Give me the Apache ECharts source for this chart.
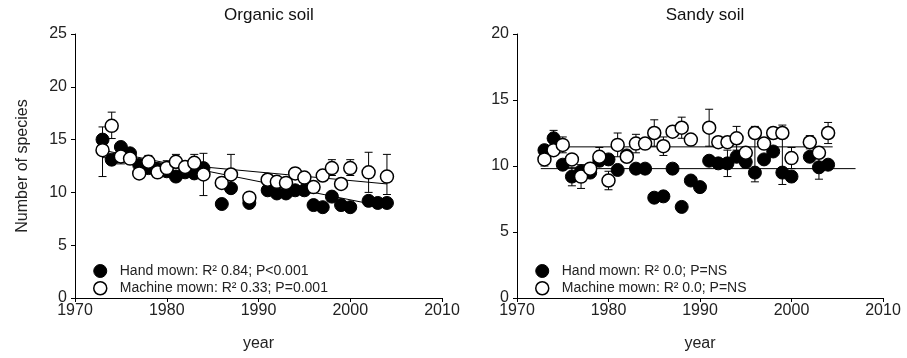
<!DOCTYPE html>
<html>
<head>
<meta charset="utf-8">
<script src="https://cdn.jsdelivr.net/npm/echarts@6/dist/echarts.min.js"></script>
<style>
  html, body { margin: 0; padding: 0; background: #fff; }
  #chart { width: 907px; height: 358px; }
</style>
</head>
<body>
<div id="chart"></div>
<script>
// years 1973..2004, null = no survey
const years = [1973,1974,1975,1976,1977,1978,1979,1980,1981,1982,1983,1984,1985,1986,1987,1988,
               1989,1990,1991,1992,1993,1994,1995,1996,1997,1998,1999,2000,2001,2002,2003,2004];

// Organic soil
const organicHand    = [15.0,13.1,14.3,13.7,12.6,12.3,12.2,12.0,11.5,11.9,11.8,12.3,null,8.9,10.4,null,
                        9.0,null,10.2,9.9,9.9,10.2,10.2,8.8,8.6,9.6,8.8,8.6,null,9.2,9.0,9.0];
const organicMachine = [14.0,16.3,13.4,13.2,11.8,12.9,11.9,12.3,12.9,12.4,12.8,11.7,null,10.9,11.7,null,
                        9.5,null,11.2,11.0,10.9,11.8,11.4,10.5,11.6,12.3,10.8,12.3,null,11.9,null,11.5];
// [year, low, high]
const organicErr = [[1973,11.5,16.2],[1974,15.1,17.6],[1975,12.7,13.9],[1978,12.3,13.5],[1980,11.9,13.0],
                    [1981,12.3,13.6],[1983,12.1,13.6],[1984,9.7,13.7],[1987,9.9,13.6],[1994,11.3,12.3],
                    [1998,11.6,13.1],[2000,11.6,13.1],[2002,10.0,13.8],[2004,9.8,13.6]];
const organicHandFit    = [[1973,14.0],[2004,8.6]];
const organicMachineFit = [[1973,13.3],[2004,10.8]];

// Sandy soil
const sandyHand    = [11.2,12.1,10.1,9.2,9.6,9.5,10.4,10.5,9.7,10.8,9.8,9.8,7.6,7.7,9.8,6.9,
                      8.9,8.4,10.4,10.2,10.2,10.7,10.3,9.5,10.5,11.1,9.5,9.2,null,10.7,9.9,10.1];
const sandyMachine = [10.5,11.2,11.6,10.5,9.2,9.8,10.7,8.9,11.6,10.7,11.7,11.7,12.5,11.5,12.6,12.9,
                      12.0,null,12.9,11.8,11.8,12.1,11.0,12.5,11.7,12.5,12.5,10.6,null,11.8,11.0,12.5];
const sandyErr = [[1973,10.0,11.0],[1974,11.5,12.7],[1975,11.0,12.2],[1976,8.5,9.9],[1977,8.3,10.1],
                  [1979,10.0,11.4],[1980,8.2,9.6],[1981,10.7,12.5],[1983,11.0,12.4],[1985,11.5,13.5],
                  [1986,10.8,12.2],[1988,12.1,13.7],[1991,11.5,14.3],[1993,9.2,11.2],[1994,11.2,13.0],
                  [1996,8.8,13.0],[1999,8.6,13.1],[2000,9.8,11.4],[2002,11.3,12.3],[2003,9.0,10.8],
                  [2004,11.7,13.3]];
const sandyHandFit    = [[1972.6,9.8],[2007,9.8]];
const sandyMachineFit = [[1972.6,11.45],[2004.5,11.45]];

const xTicks = [1970, 1980, 1990, 2000, 2010];

function pairs(vals) {
  return years.map((y, i) => [y, vals[i]]).filter(p => p[1] != null);
}

function renderErr(params, api) {
  const x = api.value(0);
  const lo = api.coord([x, api.value(1)]);
  const hi = api.coord([x, api.value(2)]);
  const st = { stroke: '#000', lineWidth: 1 };
  return {
    type: 'group',
    children: [
      { type: 'line', shape: { x1: lo[0], y1: lo[1], x2: hi[0], y2: hi[1] }, style: st },
      { type: 'line', shape: { x1: lo[0] - 4, y1: lo[1], x2: lo[0] + 4, y2: lo[1] }, style: st },
      { type: 'line', shape: { x1: hi[0] - 4, y1: hi[1], x2: hi[0] + 4, y2: hi[1] }, style: st }
    ]
  };
}

const font = 'Liberation Sans, Arial, sans-serif';
const axisCommon = {
  axisLine: { show: true, lineStyle: { color: '#000', width: 1 } },
  axisTick: { show: true, inside: false, length: 4, lineStyle: { color: '#000' } },
  axisLabel: { color: '#222', fontSize: 16, fontFamily: font },
  splitLine: { show: false },
  nameTextStyle: { color: '#222', fontSize: 16, fontFamily: font }
};

function xAxis(idx) {
  return Object.assign({}, axisCommon, {
    type: 'value', gridIndex: idx, min: xTicks[0], max: xTicks[xTicks.length - 1], interval: 10,
    name: 'year', nameLocation: 'middle', nameGap: 38,
    axisLabel: Object.assign({}, axisCommon.axisLabel, { margin: 5, formatter: v => String(v) })
  });
}

const filledStyle = { color: '#000', borderColor: '#000', borderWidth: 1, opacity: 1 };
const openStyle = { color: '#fff', borderColor: '#000', borderWidth: 1.5, opacity: 1 };

function panel(idx, hand, machine, err, handFit, machineFit, handName, machineName) {
  return [
    { type: 'custom', xAxisIndex: idx, yAxisIndex: idx, renderItem: renderErr, data: err, z: 1, silent: true },
    { type: 'line', xAxisIndex: idx, yAxisIndex: idx, data: handFit, symbol: 'none',
      lineStyle: { color: '#000', width: 1 }, z: 2, silent: true },
    { type: 'line', xAxisIndex: idx, yAxisIndex: idx, data: machineFit, symbol: 'none',
      lineStyle: { color: '#000', width: 1 }, z: 2, silent: true },
    { name: handName, type: 'scatter', xAxisIndex: idx, yAxisIndex: idx, data: pairs(hand),
      symbol: 'circle', symbolSize: 13, itemStyle: filledStyle, z: 3 },
    { name: machineName, type: 'scatter', xAxisIndex: idx, yAxisIndex: idx, data: pairs(machine),
      symbol: 'circle', symbolSize: 13, itemStyle: openStyle, z: 4 }
  ];
}

const hOrg = 'Hand mown: R² 0.84; P<0.001';
const mOrg = 'Machine mown: R² 0.33; P=0.001';
const hSand = 'Hand mown: R² 0.0; P=NS';
const mSand = 'Machine mown: R² 0.0; P=NS';

function legend(left, names) {
  return {
    orient: 'vertical', left: left, top: 259, itemWidth: 13, itemHeight: 13, itemGap: 3,
    icon: 'circle', selectedMode: false,
    textStyle: { color: '#222', fontSize: 14, fontFamily: font, padding: [0, 0, 0, 8] },
    data: [
      { name: names[0], itemStyle: filledStyle },
      { name: names[1], itemStyle: openStyle }
    ]
  };
}

const chart = echarts.init(document.getElementById('chart'));
chart.setOption({
  animation: false,
  backgroundColor: '#fff',
  title: [
    { text: 'Organic soil', left: 264, top: 2, textAlign: 'center',
      textStyle: { fontSize: 17, fontWeight: 'normal', color: '#111', fontFamily: font } },
    { text: 'Sandy soil', left: 700, top: 2, textAlign: 'center',
      textStyle: { fontSize: 17, fontWeight: 'normal', color: '#111', fontFamily: font } }
  ],
  legend: [legend(88, [hOrg, mOrg]), legend(530, [hSand, mSand])],
  grid: [
    { left: 75, right: 465, top: 34, bottom: 60 },
    { left: 517, right: 24, top: 34, bottom: 60 }
  ],
  xAxis: [xAxis(0), xAxis(1)],
  yAxis: [
    Object.assign({}, axisCommon, { type: 'value', gridIndex: 0, min: 0, max: 25, interval: 5,
      name: 'Number of species', nameLocation: 'middle', nameGap: 44,
      axisLabel: Object.assign({}, axisCommon.axisLabel, { margin: 8 }) }),
    Object.assign({}, axisCommon, { type: 'value', gridIndex: 1, min: 0, max: 20, interval: 5,
      axisLabel: Object.assign({}, axisCommon.axisLabel, { margin: 8 }) })
  ],
  series: [].concat(
    panel(0, organicHand, organicMachine, organicErr, organicHandFit, organicMachineFit, hOrg, mOrg),
    panel(1, sandyHand, sandyMachine, sandyErr, sandyHandFit, sandyMachineFit, hSand, mSand)
  )
});
</script>
</body>
</html>
